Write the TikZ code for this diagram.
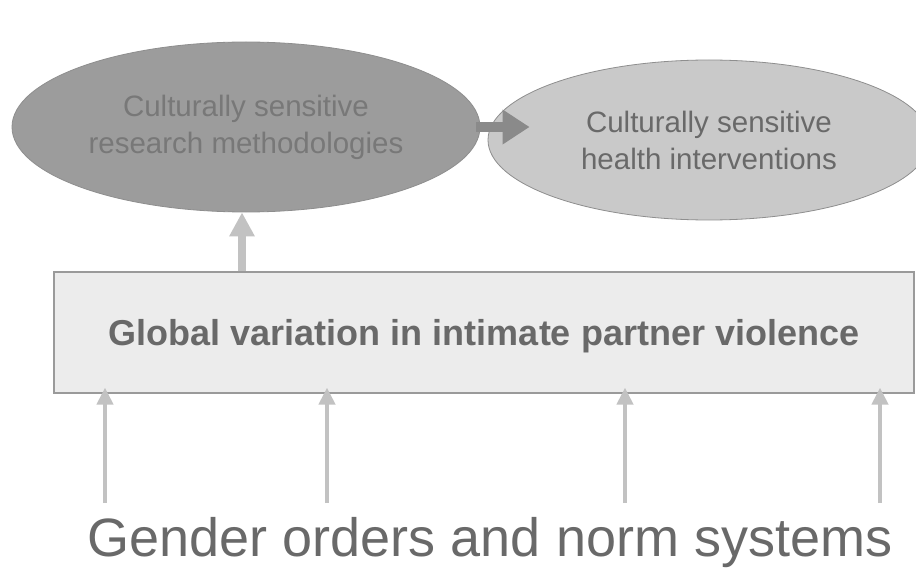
\documentclass[tikz,border=0pt]{standalone}
\usepackage{fontspec}
\setmainfont{Liberation Sans}
\usetikzlibrary{shapes.geometric,arrows.meta}
\definecolor{darkoval}{HTML}{9C9C9C}
\definecolor{lightoval}{HTML}{C9C9C9}
\definecolor{ovalline}{HTML}{8E8E8E}
\definecolor{boxfill}{HTML}{ECECEC}
\definecolor{boxline}{HTML}{9A9A9A}
\definecolor{inktext}{HTML}{696969}
\definecolor{softink}{HTML}{787878}
\definecolor{arrowlight}{HTML}{C2C2C2}
\definecolor{arrowdark}{HTML}{8A8A8A}
\tikzset{
  oval/.style={ellipse, draw=ovalline, line width=0.8pt, inner sep=0pt,
    align=center, font=\fontsize{29.5}{37}\selectfont},
  mainbox/.style={rectangle, draw=boxline, fill=boxfill, line width=1.2pt,
    inner sep=0pt, font=\fontsize{36}{42}\selectfont\bfseries, text=inktext},
  bigarrow/.style={draw=arrowlight, line width=8pt,
    -{Triangle[length=24pt,width=24pt]}},
  sidearrow/.style={draw=arrowdark, line width=10pt,
    -{Triangle[length=27pt,width=33pt]}},
  thinarrow/.style={draw=arrowlight, line width=4.5pt,
    -{Triangle[length=17pt,width=16pt]}}
}
\begin{document}
\begin{tikzpicture}[x=1pt,y=-1pt]
  \useasboundingbox (0,0) rectangle (916,575);
  \fill[white] (0,0) rectangle (916,575);

  % the two outcome ovals
  \node[oval, fill=darkoval, text=softink, minimum width=468pt, minimum height=170pt]
    (lell) at (246,127) {Culturally sensitive\\research methodologies};
  \node[oval, fill=lightoval, text=inktext, minimum width=442pt, minimum height=160pt]
    (rell) at (709,140) {Culturally sensitive\\health interventions};

  % the central box
  \node[mainbox, minimum width=860pt, minimum height=121pt] (box) at (484,332.5) {};
  \node[mainbox, draw=none, fill=none] (boxtext) at (484,336)
    {Global variation in intimate partner violence};

  % the underlying factor
  \node[font=\fontsize{54}{60}\selectfont, text=inktext, inner sep=0pt]
    (gen) at (490,543) {Gender orders and norm systems};

  % arrows
  \draw[sidearrow] ([xshift=-4pt]lell.east) -- ([xshift=42pt]rell.west |- lell.east);
  \coordinate (upx) at (242,0);
  \draw[bigarrow] (box.north -| upx) -- (lell.south -| upx);

  \foreach \i/\x in {1/105, 2/327, 3/625, 4/880} {
    \coordinate (src\i) at (\x,503);
    \draw[thinarrow] (src\i) -- ([yshift=6pt]box.south -| src\i);
  }
\end{tikzpicture}
\end{document}
